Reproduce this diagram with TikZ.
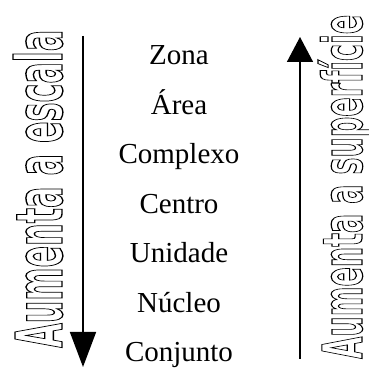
\documentclass[tikz,border=0pt]{standalone}
\usepackage{fontspec}
\setmainfont{Liberation Serif}
\newfontfamily\outlinefont{DejaVu Sans Bold}
\usetikzlibrary{arrows.meta}
% hollow letters: stroke only
\newcommand{\hollow}[1]{\special{pdf:literal direct 1 Tr 1.3 w}#1\special{pdf:literal direct 0 Tr}}

\begin{document}
\begin{tikzpicture}[x=1pt,y=1pt,
    levelword/.style={anchor=base,inner sep=0pt,font=\fontsize{29}{34}\selectfont},
    sidetitle/.style={rotate=90,anchor=base west,inner sep=0pt,font=\outlinefont\fontsize{60}{60}\selectfont},
    scalearrow/.style={line width=1.5pt,-{Triangle[length=#1,width=26pt]}}]
    \useasboundingbox (0,0) rectangle (368,372);

    % left: growing scale
    \node[sidetitle] (escala) at (62,24)
      {\resizebox{318pt}{49pt}{\hollow{Aumenta a escala}}};
    \coordinate (escTop) at (83,336);
    \coordinate (escTip) at (83,5);
    \draw[scalearrow=35pt] (escTop) -- (escTip);

    % levels
    \foreach \word [count=\i from 0] in {Zona,Área,Complexo,Centro,Unidade,Núcleo,Conjunto}
      \node[levelword] (lvl\i) at (179,307-49.5*\i) {\word};

    % right: growing surface
    \coordinate (supBot) at (300,13);
    \coordinate (supTip) at (300,335);
    \draw[scalearrow=25pt] (supBot) -- (supTip);
    \node[sidetitle] (superficie) at (362,13)
      {\resizebox{344pt}{44pt}{\hollow{Aumenta a superfície}}};
  \end{tikzpicture}
\end{document}
